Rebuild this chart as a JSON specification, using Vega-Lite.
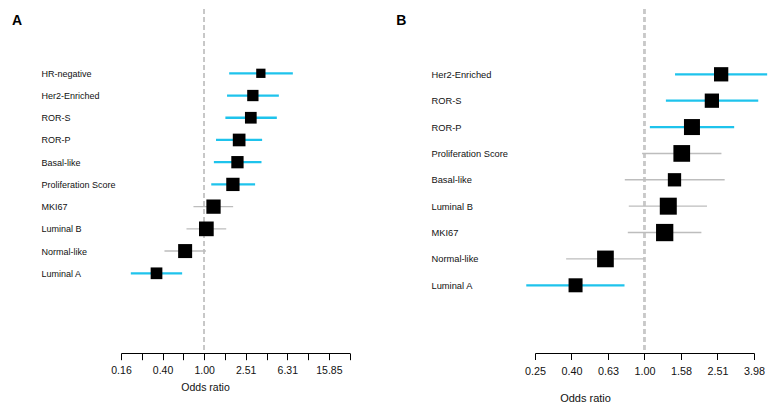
{
  "$schema": "https://vega.github.io/schema/vega-lite/v6.json",
  "padding": {"left": 11, "top": 8, "right": 2, "bottom": 0},
  "spacing": 44,
  "config": {
    "view": {"stroke": null},
    "font": "Liberation Sans",
    "axis": {"labelFont": "Liberation Sans", "titleFont": "Liberation Sans", "labelColor": "#111", "titleColor": "#111", "grid": false}
  },
  "datasets": {
    "a": [
      {"label": "HR-negative", "or": 3.51, "lo": 1.74, "hi": 7.13, "w": 86, "sig": "yes"},
      {"label": "Her2-Enriched", "or": 2.94, "lo": 1.66, "hi": 5.23, "w": 128, "sig": "yes"},
      {"label": "ROR-S", "or": 2.81, "lo": 1.60, "hi": 5.00, "w": 137, "sig": "yes"},
      {"label": "ROR-P", "or": 2.17, "lo": 1.30, "hi": 3.61, "w": 161, "sig": "yes"},
      {"label": "Basal-like", "or": 2.09, "lo": 1.24, "hi": 3.56, "w": 151, "sig": "yes"},
      {"label": "Proliferation Score", "or": 1.89, "lo": 1.17, "hi": 3.09, "w": 177, "sig": "yes"},
      {"label": "MKI67", "or": 1.23, "lo": 0.789, "hi": 1.90, "w": 204, "sig": "no"},
      {"label": "Luminal B", "or": 1.05, "lo": 0.676, "hi": 1.63, "w": 216, "sig": "no"},
      {"label": "Normal-like", "or": 0.656, "lo": 0.415, "hi": 1.04, "w": 196, "sig": "no"},
      {"label": "Luminal A", "or": 0.348, "lo": 0.197, "hi": 0.614, "w": 137, "sig": "yes"}
    ],
    "b": [
      {"label": "Her2-Enriched", "or": 2.63, "lo": 1.47, "hi": 4.70, "w": 204, "sig": "yes"},
      {"label": "ROR-S", "or": 2.34, "lo": 1.31, "hi": 4.20, "w": 204, "sig": "yes"},
      {"label": "ROR-P", "or": 1.82, "lo": 1.07, "hi": 3.10, "w": 256, "sig": "yes"},
      {"label": "Proliferation Score", "or": 1.60, "lo": 0.97, "hi": 2.64, "w": 279, "sig": "no"},
      {"label": "Basal-like", "or": 1.46, "lo": 0.78, "hi": 2.75, "w": 177, "sig": "no"},
      {"label": "Luminal B", "or": 1.35, "lo": 0.82, "hi": 2.20, "w": 289, "sig": "no"},
      {"label": "MKI67", "or": 1.29, "lo": 0.81, "hi": 2.05, "w": 299, "sig": "no"},
      {"label": "Normal-like", "or": 0.611, "lo": 0.372, "hi": 1.00, "w": 279, "sig": "no"},
      {"label": "Luminal A", "or": 0.419, "lo": 0.225, "hi": 0.777, "w": 196, "sig": "yes"}
    ]
  },
  "hconcat": [
    {
      "width": 228.7,
      "height": 344,
      "data": {"name": "a"},
      "encoding": {
        "y": {"field": "label", "type": "nominal", "sort": null,
          "scale": {"type": "point", "domain": ["", " ", "HR-negative", "Her2-Enriched", "ROR-S", "ROR-P", "Basal-like", "Proliferation Score", "MKI67", "Luminal B", "Normal-like", "Luminal A", "  ", "   ", "    "], "padding": 0.7405, "align": 0.6036},
          "axis": {"title": "A", "titleAngle": 0, "titleX": -109.5, "titleY": 15.3, "titleAlign": "left", "titleBaseline": "alphabetic", "titleFontSize": 14, "titleFontWeight": "bold", "titleColor": "#000",
            "domain": false, "ticks": false, "tickSize": 0, "labelAlign": "left", "labelPadding": 80, "labelFontSize": 9, "labelLimit": 300, "labelBaseline": "middle"}}
      },
      "layer": [
        {
          "mark": {"type": "rule", "color": "#c8c8c8", "strokeDash": [5, 3], "strokeWidth": 1.5},
          "encoding": {"x": {"datum": 1}, "y": null}
        },
        {
          "mark": {"type": "rule"},
          "encoding": {
            "x": {"field": "lo", "type": "quantitative",
              "scale": {"type": "log", "domain": [0.158489, 25.118864], "nice": false, "zero": false},
              "axis": {"title": "Odds ratio", "values": [0.158489, 0.251189, 0.398107, 0.630957, 1, 1.584893, 2.511886, 3.981072, 6.309573, 10, 15.848932, 25.118864],
                "labelExpr": "abs(round(log(datum.value)/LN10*5)) % 2 == 0 ? format(datum.value, '.2f') : ''",
                "labelOverlap": false, "labelFlush": false, "labelFontSize": 10.5, "labelPadding": 6,
                "domainColor": "#000", "tickColor": "#000", "tickSize": 6.7, "domainWidth": 1, "tickWidth": 1,
                "titleFontSize": 10.5, "titleFontWeight": "normal", "titleX": 84, "titleY": 37.3, "titleAlign": "center", "titleBaseline": "alphabetic"}},
            "x2": {"field": "hi"},
            "color": {"field": "sig", "type": "nominal", "scale": {"domain": ["yes", "no"], "range": ["#1ec3ec", "#bdbdbd"]}, "legend": null},
            "strokeWidth": {"field": "sig", "type": "nominal", "scale": {"domain": ["yes", "no"], "range": [2.3, 1.4]}, "legend": null}
          }
        },
        {
          "mark": {"type": "point", "shape": "square", "filled": true, "color": "#000", "opacity": 1, "strokeWidth": 0},
          "encoding": {
            "x": {"field": "or", "type": "quantitative"},
            "size": {"field": "w", "type": "quantitative", "scale": {"type": "linear", "domain": [0, 300], "range": [0, 300]}, "legend": null}
          }
        }
      ]
    },
    {
      "width": 219,
      "height": 344,
      "data": {"name": "b"},
      "encoding": {
        "y": {"field": "label", "type": "nominal", "sort": null,
          "scale": {"type": "point", "domain": ["", " ", "Her2-Enriched", "ROR-S", "ROR-P", "Proliferation Score", "Basal-like", "Luminal B", "MKI67", "Normal-like", "Luminal A", "  ", "   "], "padding": 0.5215, "align": 0.4564},
          "axis": {"title": "B", "titleAngle": 0, "titleX": -139.3, "titleY": 15.3, "titleAlign": "left", "titleBaseline": "alphabetic", "titleFontSize": 14, "titleFontWeight": "bold", "titleColor": "#000",
            "domain": false, "ticks": false, "tickSize": 0, "labelAlign": "left", "labelPadding": 104, "labelFontSize": 9.3, "labelLimit": 300, "labelBaseline": "middle"}}
      },
      "layer": [
        {
          "mark": {"type": "rule", "color": "#c8c8c8", "strokeDash": [5, 3], "strokeWidth": 1.5},
          "encoding": {"x": {"datum": 1}, "y": null}
        },
        {
          "mark": {"type": "rule"},
          "encoding": {
            "x": {"field": "lo", "type": "quantitative",
              "scale": {"type": "log", "domain": [0.251189, 3.981072], "nice": false, "zero": false},
              "axis": {"title": "Odds ratio", "values": [0.251189, 0.398107, 0.630957, 1, 1.584893, 2.511886, 3.981072],
                "labelExpr": "format(datum.value, '.2f')",
                "labelOverlap": false, "labelFlush": false, "labelFontSize": 10.8, "labelPadding": 6,
                "domainColor": "#000", "tickColor": "#000", "tickSize": 6.5, "domainWidth": 1, "tickWidth": 1,
                "titleFontSize": 11, "titleFontWeight": "normal", "titleX": 50, "titleY": 48.5, "titleAlign": "center", "titleBaseline": "alphabetic"}},
            "x2": {"field": "hi"},
            "color": {"field": "sig", "type": "nominal", "scale": {"domain": ["yes", "no"], "range": ["#1ec3ec", "#bdbdbd"]}, "legend": null},
            "strokeWidth": {"field": "sig", "type": "nominal", "scale": {"domain": ["yes", "no"], "range": [2.3, 1.4]}, "legend": null}
          }
        },
        {
          "mark": {"type": "point", "shape": "square", "filled": true, "color": "#000", "opacity": 1, "strokeWidth": 0},
          "encoding": {
            "x": {"field": "or", "type": "quantitative"},
            "size": {"field": "w", "type": "quantitative", "scale": {"type": "linear", "domain": [0, 300], "range": [0, 300]}, "legend": null}
          }
        }
      ]
    }
  ],
  "resolve": {"scale": {"color": "independent", "strokeWidth": "independent", "size": "independent"}}
}
